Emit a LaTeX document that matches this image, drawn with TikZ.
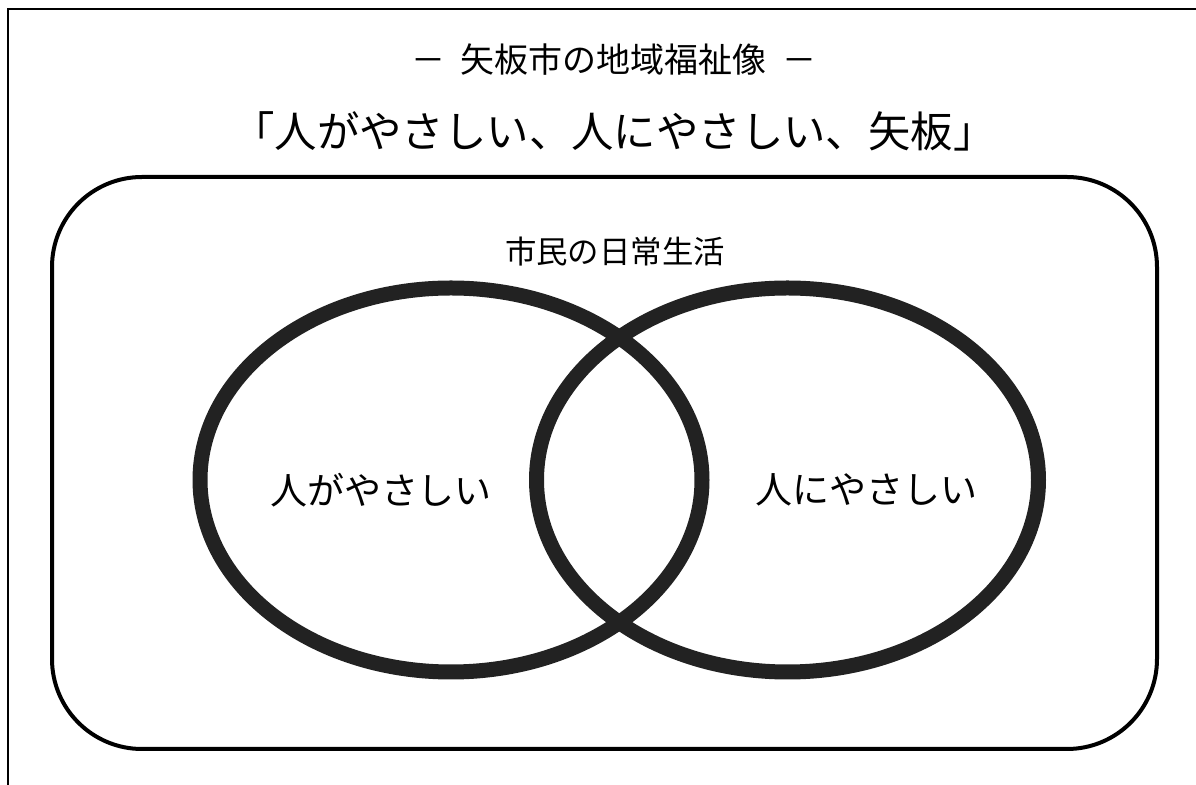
\documentclass[tikz,border=0pt]{standalone}
\usepackage{fontspec}
\usepackage{xcolor}
\setmainfont{Noto Sans CJK JP}
\definecolor{ring_gray}{HTML}{222222}

\begin{document}
\begin{tikzpicture}[x=0.5pt, y=-0.5pt, label_text/.style={inner sep=0pt, font=\fontsize{18.5pt}{22pt}\selectfont}]
                \useasboundingbox (0,0) rectangle (1196,785);
                \draw[line width=1pt] (8,785) -- (8,9) -- (1196,9);
                \node[inner sep=0pt, font=\fontsize{17pt}{20pt}\selectfont] (vision) at (614,60) {－\ \ 矢板市の地域福祉像\ \ －};
                \node[inner sep=0pt, font=\fontsize{21.2pt}{25pt}\selectfont] (motto) at (614,131) {「人がやさしい、人にやさしい、矢板」};
                \draw[line width=2pt, rounded corners=45pt] (52,177) rectangle (1157,749);
                \node[inner sep=0pt, font=\fontsize{15.7pt}{18pt}\selectfont] (daily) at (615,252) {市民の日常生活};
                \draw[ring_gray, line width=7.5pt] (451,480) ellipse [x radius=125.5pt, y radius=96pt];
                \draw[ring_gray, line width=7.5pt] (787.5,480) ellipse [x radius=125.5pt, y radius=96pt];
                \node[label_text] (kind_people) at (381,490) {人がやさしい};
                \node[label_text] (kind_to_people) at (866,490) {人にやさしい};
            \end{tikzpicture}
\end{document}
